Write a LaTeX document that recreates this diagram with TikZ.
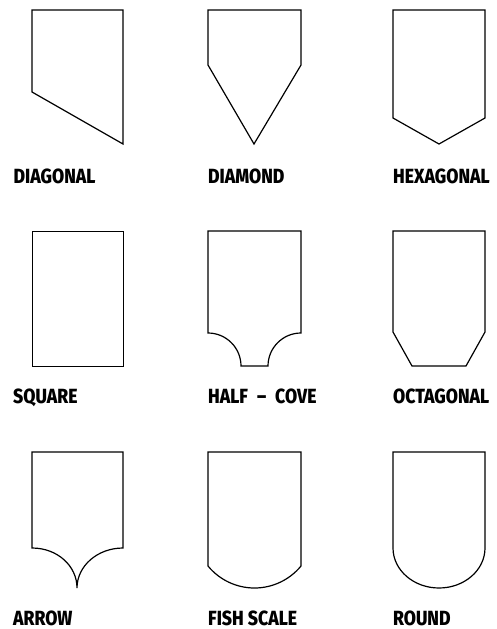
\documentclass[tikz,border=0pt]{standalone}
\usepackage{fontspec}
\setmainfont{Fira Sans}
\newfontfamily\tagfont[FakeStretch=0.86]{Fira Sans ExtraBold}
\usetikzlibrary{positioning}

\begin{document}
\begin{tikzpicture}[
    x=1pt, y=-1pt,
    outline/.style={draw, line width=1.2pt, line join=miter},
    tag/.style={anchor=base west, inner sep=0pt, font=\tagfont\fontsize{20.5}{20.5}\selectfont}
]
    \useasboundingbox (0,0) rectangle (496,629);

    % top row
    \draw[outline] (32,10) -- (123,10) -- (123,144) -- (32,92) -- cycle;
    \draw[outline] (208,10) -- (301,10) -- (301,65) -- (254,144) -- (208,65) -- cycle;
    \draw[outline] (393,10) -- (485,10) -- (485,118) -- (439,144) -- (393,118) -- cycle;
    \node[tag] (diagonal) at (13.5,183) {DIAGONAL};
    \node[tag] (diamond) at (208,183) {DIAMOND};
    \node[tag] (hexagonal) at (393,183) {HEXAGONAL};

    % middle row
    \draw[outline, line width=1pt] (32,231) -- (123,231) -- (123,366) -- (32,366) -- cycle;
    \draw[outline] (208,231) -- (301,231) -- (301,333)
        .. controls (282.8,333) and (268,347.8) .. (268,366) -- (241,366)
        .. controls (241,347.8) and (226.2,333) .. (208,333) -- cycle;
    \draw[outline] (393,231) -- (485,231) -- (485,332) -- (466,366) -- (412,366) -- (393,332) -- cycle;
    \node[tag] (square) at (13,403.5) {SQUARE};
    \node[tag] (halfcove) at (208,403.5) {HALF\hspace{9pt}–\hspace{9pt}COVE};
    \node[tag] (octagonal) at (393,403.5) {OCTAGONAL};

    % bottom row
    \draw[outline] (32,452) -- (123,452) -- (123,548)
        .. controls (97.6,548) and (77,565.9) .. (77,588)
        .. controls (77,565.9) and (57.4,548) .. (32,548) -- cycle;
    \draw[outline] (208,452) -- (301,452) -- (301,566)
        .. controls (289.6,579.9) and (272.5,588) .. (254.5,588)
        .. controls (236.5,588) and (219.4,579.9) .. (208,566) -- cycle;
    \draw[outline] (393,452) -- (485,452) -- (485,548)
        .. controls (485,570.1) and (464.4,588) .. (439,588)
        .. controls (413.6,588) and (393,570.1) .. (393,548) -- cycle;
    \node[tag] (arrow) at (13,625) {ARROW};
    \node[tag] (fishscale) at (208,625) {FISH SCALE};
    \node[tag] (round) at (393,625) {ROUND};
\end{tikzpicture}
\end{document}
